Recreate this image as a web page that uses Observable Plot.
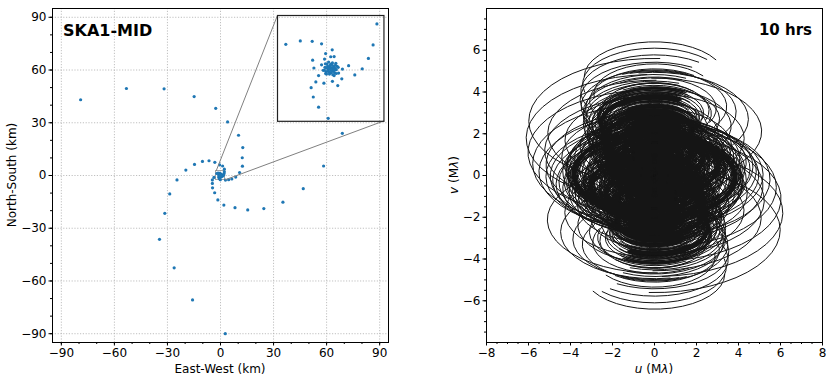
<!DOCTYPE html>
<html><head><meta charset="utf-8">
<script src="https://cdn.jsdelivr.net/npm/d3@7"></script>
<script src="https://cdn.jsdelivr.net/npm/@observablehq/plot@0.6"></script>
<style>
body{margin:0;background:#fff;font-family:"DejaVu Sans",sans-serif;}
#wrap{position:relative;width:831px;height:383px;overflow:hidden;background:#fff;}
.abs{position:absolute;left:0;top:0;}
.lab{position:absolute;font-size:12px;white-space:nowrap;line-height:12px;color:#000;transform:translate(-50%,-50%);}
.rot{transform:translate(-50%,-50%) rotate(-90deg);}
.ttl{position:absolute;font-weight:bold;white-space:nowrap;color:#000;}
</style></head><body><div id="wrap"></div>
<script>
// ---------- data (km, East / North) ----------
// antennas outside the zoomed core
const outerE = [-79.1,-53.2,-31.9,-14.9,-2.7,4.0,10.2,12.6,12.3,12.4,10.8,8.6,6.4,4.6,2.8,
                68.9,58.3,46.8,35.3,24.5,15.4,8.2,1.9,-1.5,-3.3,-4.5,-4.6,-4.6,
                2.7,-15.8,-26.2,-34.5,-31.5,-28.7,-24.6,-19.6,-14.7,-10.2,-6.5,-3.2,-0.5,1.2,2.2,
                -3.7];
const outerN = [43.1,49.5,49.3,44.9,38.2,30.5,22.9,15.9,10.1,5.3,1.7,-0.9,-2.0,-2.4,-2.6,
                24.0,5.4,-7.5,-15.2,-18.8,-19.6,-18.3,-16.8,-13.9,-9.8,-7.0,-4.5,-2.5,
                -90.0,-70.8,-52.5,-36.3,-21.5,-10.5,-2.5,3.1,6.3,8.0,8.4,7.5,6.0,5.4,3.6,
                -1.1];
// antennas of the core (shown in the inset)
const coreE = [2.17,1.99,1.77,1.48,1.13,0.84,0.55,0.52,0.33,0.08,-0.12,-0.57,-0.82,-0.92,-0.70,-0.32,-0.57,-0.79,-0.85,-0.43,
               -0.29,-0.24,0.00,0.16,0.07,-0.43,-0.87,-1.43,-2.11,0.37,0.16,0.35,-0.20,-0.35,
               0.00,0.05,-0.05,0.10,-0.10,0.02,-0.03,0.14,-0.14,0.12,-0.12,0.20,-0.20,0.00,0.03,0.22,-0.22,0.18,-0.18,
               0.26,-0.27,0.08,-0.06,0.30,-0.30,0.10,-0.10,0.24,-0.24,-0.25,0.26,0.07,-0.08,0.16,-0.15];
const coreN = [2.10,1.11,0.47,-0.02,-0.31,0.13,-0.03,-0.49,-0.81,-0.61,-2.36,-1.83,-1.35,-0.91,-0.64,-0.70,-0.34,0.02,0.39,0.17,
               0.44,0.70,0.55,0.56,0.88,1.16,1.28,1.30,1.14,-0.22,-0.34,0.05,-0.27,-0.09,
               0.00,0.03,0.06,-0.02,-0.04,-0.10,0.12,0.08,0.10,-0.12,-0.14,0.00,0.02,0.20,-0.20,0.15,-0.15,-0.20,0.20,
               -0.06,0.05,0.26,-0.27,0.10,-0.08,-0.30,0.30,0.24,-0.24,0.22,-0.24,0.15,-0.16,-0.07,0.02];

// ticks
const kmTicks = [-90,-60,-30,0,30,60,90];
const kmMinor = [-90,-80,-70,-60,-50,-40,-30,-20,-10,0,10,20,30,40,50,60,70,80,90];
const uTicks = [-8,-6,-4,-2,0,2,4,6,8];
const vTicks = [-6,-4,-2,0,2,4,6];
const uvMinor = [-8,-7.5,-7,-6.5,-6,-5.5,-5,-4.5,-4,-3.5,-3,-2.5,-2,-1.5,-1,-0.5,0,0.5,1,1.5,2,2.5,3,3.5,4,4.5,5,5.5,6,6.5,7,7.5,8];

// observation
const LATITUDE_DEG = -30.7;
const DECLINATION_DEG = -30;
const HOUR_ANGLE_H = [-5, 5];   // 10 hrs
const WAVELENGTH_M = 0.0233;

// zoom window and inset placement (main-panel km)
const ZOOM_HALF = 2.5;
const INSET = {x1: 32.3, x2: 92.5, y1: 31.1, y2: 91.3};

// ---------- build ----------
const antennas = outerE.map((e,i)=>({e, n: outerN[i]})).concat(coreE.map((e,i)=>({e, n: coreN[i]})));
const core = coreE.map((e,i)=>({e, n: coreN[i]}));
const fmt = d => d < 0 ? "\u2212" + (-d) : String(d);
const blue = "#1f77b4";
const gridStyle = {stroke:"#b0b0b0", strokeWidth:0.8, strokeDasharray:"1.2,1.6"};
const style = {fontFamily:"DejaVu Sans, sans-serif", fontSize:"12px", color:"#000", background:"transparent", overflow:"visible"};

const wrap = document.getElementById("wrap");

const main = Plot.plot({
  width: 400, height: 383, marginLeft: 52, marginRight: 12, marginTop: 8, marginBottom: 41,
  x: {domain: [-95, 95]}, y: {domain: [-95, 95]},
  style,
  marks: [
    Plot.ruleX(kmTicks, gridStyle),
    Plot.ruleY(kmTicks, gridStyle),
    Plot.axisX(kmMinor, {tickSize: 2, tickFormat: () => "", label: null}),
    Plot.axisX(kmTicks, {tickSize: 3.5, tickPadding: 2.5, tickFormat: fmt, label: null}),
    Plot.axisY(kmMinor, {tickSize: 2, tickFormat: () => "", label: null}),
    Plot.axisY(kmTicks, {tickSize: 3.5, tickPadding: 2.5, tickFormat: fmt, label: null}),
    Plot.rect([{}], {x1: -ZOOM_HALF, x2: ZOOM_HALF, y1: -ZOOM_HALF, y2: ZOOM_HALF, fill: "none", stroke: "#909090", strokeWidth: 0.8}),
    Plot.dot(antennas, {x: "e", y: "n", r: 1.6, fill: blue, stroke: null}),
    Plot.link([{x1: -ZOOM_HALF, y1: ZOOM_HALF, x2: INSET.x1, y2: INSET.y2},
               {x1: ZOOM_HALF, y1: -ZOOM_HALF, x2: INSET.x2, y2: INSET.y1}],
              {x1: "x1", y1: "y1", x2: "x2", y2: "y2", stroke: "#808080", strokeWidth: 1}),
    Plot.frame({stroke: "#000", strokeWidth: 1})
  ]
});
main.classList.add("abs");
wrap.appendChild(main);

// inset
const sx = main.scale("x"), sy = main.scale("y");
const iL = sx.apply(INSET.x1), iR = sx.apply(INSET.x2), iT = sy.apply(INSET.y2), iB = sy.apply(INSET.y1);
const inset = Plot.plot({
  width: iR - iL, height: iB - iT, margin: 0,
  x: {domain: [-ZOOM_HALF, ZOOM_HALF], axis: null}, y: {domain: [-ZOOM_HALF, ZOOM_HALF], axis: null},
  style,
  marks: [
    Plot.dot(core, {x: "e", y: "n", r: 1.6, fill: blue, stroke: null}),
    Plot.frame({stroke: "#222", strokeWidth: 1.2})
  ]
});
inset.style.position = "absolute";
inset.style.left = iL + "px";
inset.style.top = iT + "px";
wrap.appendChild(inset);

// uv tracks (earth-rotation synthesis of every baseline; the first
// position column is taken along the meridian, as in the original figure)
const rad = Math.PI / 180;
const sL = Math.sin(LATITUDE_DEG*rad), cL = Math.cos(LATITUDE_DEG*rad);
const sD = Math.sin(DECLINATION_DEG*rad), cD = Math.cos(DECLINATION_DEG*rad);
const h0 = HOUR_ANGLE_H[0]*15*rad, h1 = HOUR_ANGLE_H[1]*15*rad;
const k = 1 / (WAVELENGTH_M * 1000); // km -> Mλ
const U = [], V = [];
for (let i = 0; i < antennas.length; i++) {
  for (let j = i + 1; j < antennas.length; j++) {
    const a = (antennas[j].e - antennas[i].e) * k, b = (antennas[j].n - antennas[i].n) * k;
    const X = -sL * a, Y = b, Z = cL * a;
    const Rpx = Math.hypot(X, Y) * 21;
    const step = 2 * Math.sqrt(0.5 / Math.max(Rpx, 0.5));
    const n = Math.max(2, Math.ceil((h1 - h0) / step));
    for (const s of [1, -1]) {
      for (let m = 0; m <= n; m++) {
        const H = h0 + (h1 - h0) * m / n, sh = Math.sin(H), ch = Math.cos(H);
        U.push(s * (sh * X + ch * Y));
        V.push(s * (-sD * ch * X + sD * sh * Y + cD * Z));
      }
      U.push(NaN); V.push(NaN);
    }
  }
}

const uv = Plot.plot({
  width: 411, height: 383, marginLeft: 66, marginRight: 9, marginTop: 8, marginBottom: 41,
  x: {domain: [-8, 8]}, y: {domain: [-8, 8]},
  style,
  marks: [
    Plot.line(U, {x: U, y: V, stroke: "#151515", strokeWidth: 1.0}),
    Plot.axisX(uvMinor, {tickSize: 2, tickFormat: () => "", label: null}),
    Plot.axisX(uTicks, {tickSize: 3.5, tickPadding: 2.5, tickFormat: fmt, label: null}),
    Plot.axisY(uvMinor.filter(d => Math.abs(d) < 8), {tickSize: 2, tickFormat: () => "", label: null}),
    Plot.axisY(vTicks, {tickSize: 3.5, tickPadding: 2.5, tickFormat: fmt, label: null}),
    Plot.frame({stroke: "#000", strokeWidth: 1})
  ]
});
uv.style.position = "absolute";
uv.style.left = "420px";
uv.style.top = "0px";
wrap.appendChild(uv);

// labels
function lab(html, x, y, rot) {
  const d = document.createElement("div");
  d.className = "lab" + (rot ? " rot" : "");
  d.innerHTML = html;
  d.style.left = x + "px"; d.style.top = y + "px";
  wrap.appendChild(d);
}
lab("North-South (km)", 12, 175, true);
lab("East-West (km)", 220, 369, false);
lab("<i>v</i> (M<i>λ</i>)", 454, 175, true);
lab("<i>u</i> (M<i>λ</i>)", 654, 369, false);

function ttl(text, size, x, y, alignRight) {
  const d = document.createElement("div");
  d.className = "ttl";
  d.textContent = text;
  d.style.fontSize = size + "px";
  d.style.lineHeight = size + "px";
  d.style.top = y + "px";
  if (alignRight) d.style.right = (831 - x) + "px"; else d.style.left = x + "px";
  wrap.appendChild(d);
}
ttl("SKA1-MID", 16, 63, 23, false);
ttl("10 hrs", 15, 812, 23, true);
</script></body></html>
